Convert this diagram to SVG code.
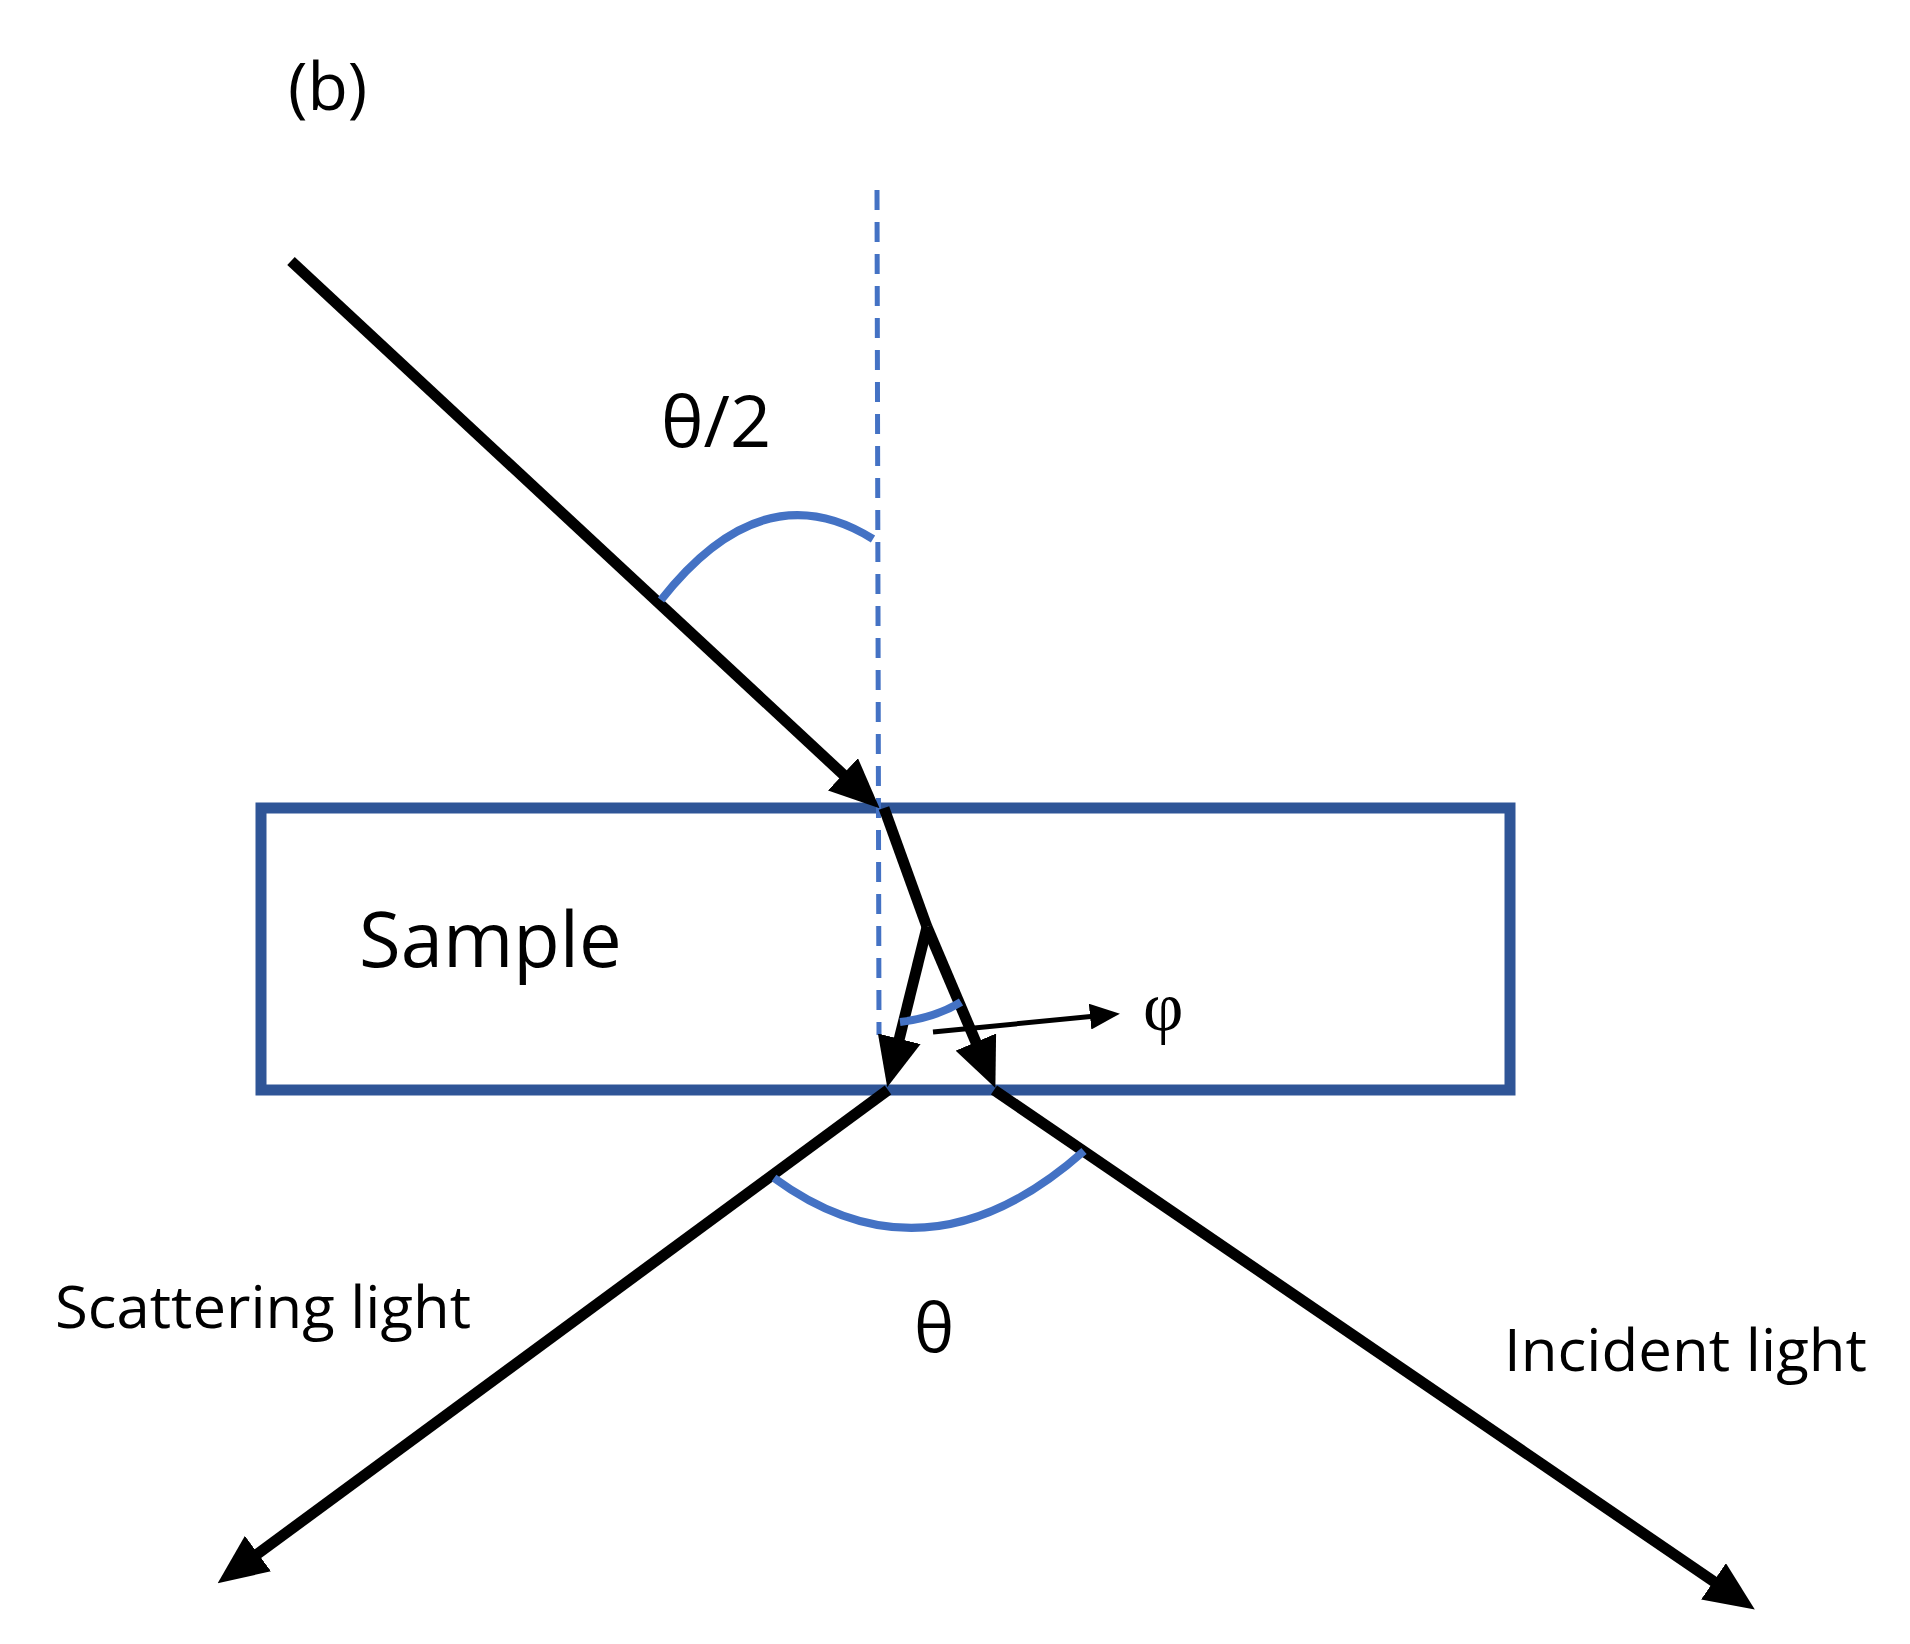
<svg xmlns="http://www.w3.org/2000/svg" width="1910" height="1644" viewBox="0 0 1910 1644">
<style>
.ray{stroke:#000;stroke-width:11;fill:none;stroke-linecap:butt}
.arc{stroke:#4472C4;stroke-width:8;fill:none}
.lbl{font-family:"Open Sans","Liberation Sans",sans-serif;fill:#000}
.greek{font-family:"Liberation Serif",serif;fill:#000}
</style>
<defs>
<marker id="ah" markerUnits="userSpaceOnUse" markerWidth="50" markerHeight="44" refX="26" refY="22" orient="auto">
<path d="M0,0 L50,22 L0,44 Z" fill="#000"/>
</marker>
<marker id="ahs" markerUnits="userSpaceOnUse" markerWidth="30" markerHeight="26" refX="16" refY="13" orient="auto">
<path d="M0,0 L30,13 L0,26 Z" fill="#000"/>
</marker>
</defs>
<rect width="1910" height="1644" fill="#fff"/>
<text class="lbl" x="288" y="110" font-size="66">(b)</text>
<g id="sample">
<rect x="261" y="808" width="1249" height="282" fill="none" stroke="#2F5597" stroke-width="11"/>
<text class="lbl" x="359" y="967" font-size="76">Sample</text>
</g>
<g id="normal"><line x1="877" y1="190" x2="879" y2="1035" stroke="#4472C4" stroke-width="5" stroke-dasharray="20,12"/></g>
<g id="connectors">
<line class="ray" x1="291" y1="261" x2="862" y2="792" marker-end="url(#ah)"/>
<line class="ray" x1="884" y1="808" x2="927" y2="927"/>
<line class="ray" x1="927" y1="927" x2="986" y2="1066" marker-end="url(#ah)"/>
<line class="ray" x1="927" y1="927" x2="893" y2="1064" marker-end="url(#ah)"/>
<line class="ray" x1="888" y1="1090" x2="237" y2="1569" marker-end="url(#ah)"/>
<line class="ray" x1="994" y1="1090" x2="1735" y2="1596" marker-end="url(#ah)"/>
<line x1="933" y1="1032" x2="1106" y2="1015" stroke="#000" stroke-width="5" marker-end="url(#ahs)"/>
</g>
<g id="angles">
<path class="arc" d="M661,600 Q763,470 873,539"/>
<path class="arc" d="M900,1022 Q935,1018 961,1002" stroke-width="6"/>
<path class="arc" d="M774,1178 Q927,1290 1084,1151"/>
</g>
<text class="lbl" x="661" y="447" font-size="72">θ/2</text>
<text class="greek" x="1143" y="1030" font-size="70">φ</text>
<text class="lbl" x="914" y="1352" font-size="68">θ</text>
<text class="lbl" x="55" y="1328" font-size="58" textLength="416" lengthAdjust="spacingAndGlyphs">Scattering light</text>
<text class="lbl" x="1504" y="1371" font-size="58" textLength="363" lengthAdjust="spacingAndGlyphs">Incident light</text>
</svg>
